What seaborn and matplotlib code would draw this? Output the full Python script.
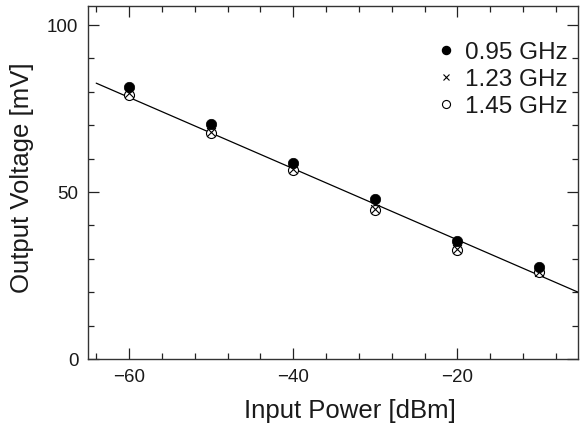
import matplotlib
matplotlib.use("Agg")
import matplotlib.pyplot as plt
import seaborn as sns
import numpy as np
import pandas as pd
from matplotlib.lines import Line2D
from matplotlib.ticker import MultipleLocator

# Data
power_dbm = [-60, -50, -40, -30, -20, -10]
v_095 = [81.5, 70.4, 58.8, 48.0, 35.3, 27.6]
v_123 = [79.5, 68.0, 56.8, 45.0, 33.0, 26.2]
v_145 = [79.2, 67.8, 56.6, 44.7, 32.7, 26.0]
fit_x = [-64.0, -5.0]
fit_y = [82.6, 19.7]
series_labels = ["0.95 GHz", "1.23 GHz", "1.45 GHz"]

sns.set_theme(style="white")
plt.rcParams["font.family"] = ["Liberation Sans", "DejaVu Sans"]
plt.rcParams["axes.unicode_minus"] = True

fig = plt.figure(figsize=(5.81, 4.24), dpi=100)
ax = fig.add_axes([88/581, 1-359/424, (578-88)/581, (359-6)/424])

sns.lineplot(x=fit_x, y=fit_y, ax=ax, color="black", linewidth=0.9, zorder=2)

sns.scatterplot(x=power_dbm, y=v_145, ax=ax, marker="o", s=52,
                facecolor="white", edgecolor="black", linewidth=0.8, zorder=3)
sns.scatterplot(x=power_dbm, y=v_123, ax=ax, marker="x", s=40,
                color="black", linewidth=0.8, zorder=4)
sns.scatterplot(x=power_dbm, y=v_095, ax=ax, marker="o", s=56,
                color="black", edgecolor="black", linewidth=0.5, zorder=5)

ax.set_xlim(-65, -5.3)
ax.set_ylim(0, 105.7)
ax.xaxis.set_major_locator(MultipleLocator(20))
ax.xaxis.set_minor_locator(MultipleLocator(4))
ax.yaxis.set_major_locator(MultipleLocator(50))
ax.yaxis.set_minor_locator(MultipleLocator(10))

ax.tick_params(which="both", direction="in", top=True, right=True,
               bottom=True, left=True, color="#222222", width=0.9)
ax.tick_params(which="major", length=8, pad=7, labelsize=13.5, labelcolor="#1a1a1a")
ax.tick_params(which="minor", length=4)

for sp in ax.spines.values():
    sp.set_color("#333333")
    sp.set_linewidth(1.0)

ax.set_xlabel("Input Power [dBm]", fontsize=18.5, color="#1a1a1a")
ax.set_ylabel("Output Voltage [mV]", fontsize=18.5, color="#1a1a1a")
ax.xaxis.set_label_coords(0.534, -0.113)
ax.yaxis.set_label_coords(-0.111, 0.514)

handles = [
    Line2D([], [], marker="o", linestyle="none", markersize=5.8,
           markerfacecolor="black", markeredgecolor="black"),
    Line2D([], [], marker="x", linestyle="none", markersize=4.5,
           markeredgecolor="black", markeredgewidth=0.8),
    Line2D([], [], marker="o", linestyle="none", markersize=5.8,
           markerfacecolor="white", markeredgecolor="black", markeredgewidth=0.8),
]
leg = ax.legend(handles, series_labels, loc="upper right", frameon=False,
                fontsize=17.5, handlelength=0.6, handletextpad=0.45,
                labelspacing=0.2, borderaxespad=0.2,
                bbox_to_anchor=(1.008, 0.94))
for t in leg.get_texts():
    t.set_color("#1a1a1a")

fig.savefig("out.png", dpi=100)
